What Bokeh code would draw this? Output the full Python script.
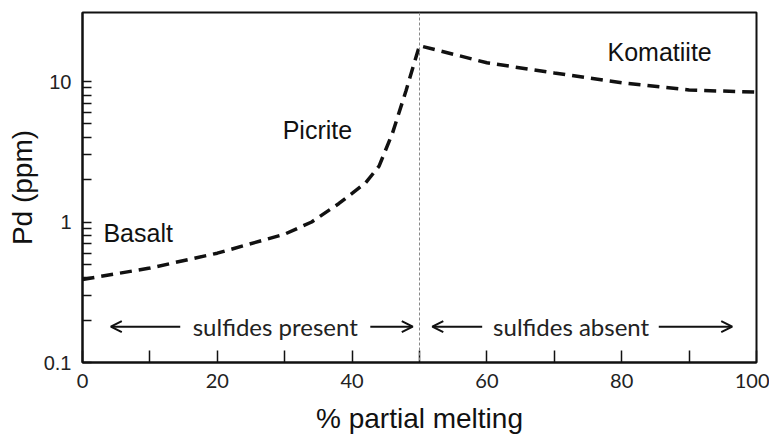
from bokeh.plotting import figure
from bokeh.models import Range1d, FixedTicker, Span, Arrow, OpenHead, Label
from bokeh.embed import file_html
from bokeh.resources import INLINE

# data
melting = [0, 10, 20, 30, 34, 38, 42, 44, 46, 48, 49, 50, 60, 70, 80, 90, 100]
pd_ppm = [0.39, 0.47, 0.60, 0.82, 1.0, 1.35, 1.9, 2.5, 4.3, 8.6, 12.5, 18, 13.6, 11.5, 9.8, 8.7, 8.4]

x_major = [0, 20, 40, 60, 80, 100]
x_minor = [10, 30, 50, 70, 90]
y_labelled = [0.1, 1, 10]
y_unlabelled = [0.2, 0.3, 0.4, 0.5, 0.6, 0.7, 0.8, 0.9, 2, 3, 4, 5, 6, 7, 8, 9]

rock_names = ["Basalt", "Picrite", "Komatiite"]
rock_x = [3.1, 29.7, 77.9]
rock_y = [0.84, 4.5, 16.1]

boundary = 50

p = figure(width=769, height=438, y_axis_type="log",
           x_range=Range1d(0, 100), y_range=Range1d(0.1, 31),
           output_backend="svg", toolbar_location=None,
           min_border_left=82, min_border_right=13,
           min_border_top=12, min_border_bottom=76)

p.background_fill_color = "white"
p.border_fill_color = "white"
p.outline_line_color = "#111111"
p.outline_line_width = 2
p.xgrid.visible = False
p.ygrid.visible = False

# x axis
p.xaxis.ticker = FixedTicker(ticks=x_major, minor_ticks=x_minor)
p.xaxis.axis_line_width = 2
p.xaxis.axis_line_color = "#111111"
p.xaxis.major_tick_in = 12
p.xaxis.major_tick_out = 0
p.xaxis.minor_tick_in = 12
p.xaxis.minor_tick_out = 0
p.xaxis.major_tick_line_color = "#111111"
p.xaxis.minor_tick_line_color = "#111111"
p.xaxis.major_tick_line_width = 1.5
p.xaxis.minor_tick_line_width = 1.5
p.xaxis.major_label_text_font = "Lato"
p.xaxis.major_label_text_font_size = "20px"
p.xaxis.major_label_text_color = "#222222"
p.xaxis.major_label_standoff = 11
p.xaxis.axis_label = "% partial melting"
p.xaxis.axis_label_text_font = "Liberation Sans"
p.xaxis.axis_label_text_font_style = "normal"
p.xaxis.axis_label_text_font_size = "28px"
p.xaxis.axis_label_text_color = "#111111"
p.xaxis.axis_label_standoff = 12

# y axis (all tick marks as majors, labels only at decades)
y_ticks = sorted(y_labelled + y_unlabelled)
p.yaxis.ticker = FixedTicker(ticks=y_ticks)
p.yaxis.axis_line_width = 2
p.yaxis.axis_line_color = "#111111"
p.yaxis.major_tick_in = 9
p.yaxis.major_tick_out = 0
p.yaxis.minor_tick_in = 0
p.yaxis.minor_tick_out = 0
p.yaxis.major_tick_line_color = "#111111"
p.yaxis.major_tick_line_width = 1.5
p.yaxis.major_label_text_font = "Liberation Sans"
p.yaxis.major_label_text_font_size = "20px"
p.yaxis.major_label_text_color = "#222222"
p.yaxis.major_label_standoff = 11
overrides = {t: "" for t in y_unlabelled}
overrides.update({0.1: "0.1", 1: "1", 10: "10"})
p.yaxis.major_label_overrides = overrides
p.yaxis.axis_label = "Pd (ppm)"
p.yaxis.axis_label_text_font = "Liberation Sans"
p.yaxis.axis_label_text_font_style = "normal"
p.yaxis.axis_label_text_font_size = "28px"
p.yaxis.axis_label_text_color = "#111111"
p.yaxis.axis_label_standoff = 3

# boundary
p.add_layout(Span(location=boundary, dimension="height", line_color="#888888",
                  line_width=1, line_dash="3 2"))

# curve
p.line(melting, pd_ppm, line_color="#111111", line_width=3.5, line_dash="12 7")

# rock labels
for name, rx, ry in zip(rock_names, rock_x, rock_y):
    p.add_layout(Label(x=rx, y=ry, text=name, text_font="Liberation Sans",
                       text_font_size="25px", text_color="#111111",
                       text_baseline="middle", text_align="left"))

# arrows and region labels
arrow_y = 0.18
for x0, x1 in [(14.5, 4.2), (42.7, 49.0), (59.3, 51.9), (85.5, 96.4)]:
    p.add_layout(Arrow(x_start=x0, y_start=arrow_y, x_end=x1, y_end=arrow_y,
                       line_color="#111111", line_width=2,
                       end=OpenHead(size=11, line_width=2, line_color="#111111")))

for txt, cx in [("sulfides present", 28.6), ("sulfides absent", 72.5)]:
    p.add_layout(Label(x=cx, y=arrow_y, text=txt, text_font="Lato",
                       text_font_size="24px", text_color="#222222",
                       text_baseline="middle", text_align="center"))

open("out.html", "w").write(file_html(p, INLINE))
